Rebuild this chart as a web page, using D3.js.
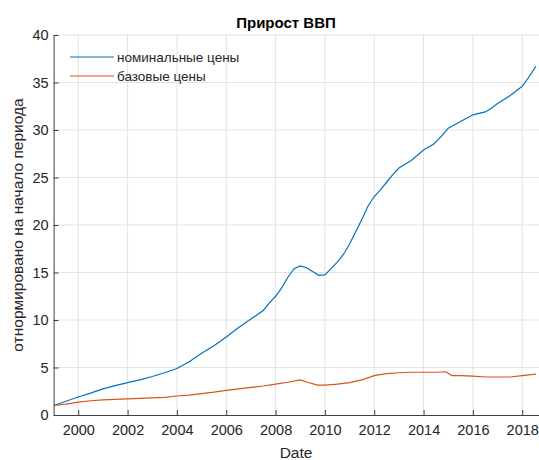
<!DOCTYPE html>
<html><head><meta charset="utf-8">
<script src="https://cdn.jsdelivr.net/npm/d3@7"></script>
<style>
html,body{margin:0;padding:0;background:#fff;}
svg{display:block;font-family:"Liberation Sans",Arial,sans-serif;}
</style></head>
<body><svg id="c" width="539" height="460"></svg>
<script>
const nominalYears = [1999.0,1999.5,2000.0,2000.5,2001.0,2001.5,2002.0,2002.5,2003.0,2003.5,2004.0,2004.5,2005.0,2005.5,2006.0,2006.5,2007.0,2007.5,2007.75,2008.0,2008.2,2008.5,2008.75,2009.0,2009.25,2009.5,2009.75,2010.0,2010.25,2010.5,2010.75,2011.0,2011.25,2011.5,2011.75,2012.0,2012.25,2012.5,2012.75,2013.0,2013.5,2014.0,2014.4,2014.75,2015.0,2015.5,2016.0,2016.5,2016.75,2017.0,2017.5,2018.0,2018.25,2018.55];
const nominalValues = [1.0,1.45,1.9,2.3,2.75,3.1,3.4,3.7,4.05,4.45,4.9,5.6,6.5,7.3,8.2,9.2,10.1,11.0,11.8,12.5,13.2,14.5,15.4,15.7,15.5,15.1,14.7,14.75,15.4,16.1,16.9,18.0,19.3,20.6,22.0,23.0,23.7,24.5,25.3,26.0,26.8,27.9,28.5,29.4,30.2,30.9,31.6,31.9,32.3,32.8,33.6,34.6,35.5,36.7];
const baseYears = [1999.0,1999.5,2000.0,2000.5,2001.0,2001.5,2002.0,2002.5,2003.0,2003.5,2004.0,2004.5,2005.0,2005.5,2006.0,2006.5,2007.0,2007.5,2008.0,2008.5,2009.0,2009.3,2009.7,2010.0,2010.5,2011.0,2011.5,2012.0,2012.5,2013.0,2013.5,2014.0,2014.5,2014.9,2015.15,2015.5,2016.0,2016.5,2017.0,2017.5,2018.0,2018.55];
const baseValues = [1.0,1.15,1.35,1.5,1.6,1.65,1.7,1.75,1.8,1.85,2.0,2.1,2.25,2.4,2.6,2.75,2.9,3.05,3.25,3.45,3.7,3.45,3.15,3.15,3.25,3.4,3.7,4.15,4.35,4.45,4.5,4.5,4.5,4.55,4.15,4.15,4.1,4.0,4.0,4.0,4.15,4.3];
const xTicks = [2000,2002,2004,2006,2008,2010,2012,2014,2016,2018];
const yTicks = [0,5,10,15,20,25,30,35,40];
const seriesNames = ["номинальные цены","базовые цены"];
const seriesColors = ["#0072BD","#D95319"];

const svg = d3.select("#c");
const x = d3.scaleLinear().domain([1999, 2018.68]).range([53.6, 539]);
const y = d3.scaleLinear().domain([0, 40]).range([415, 35]);
const textCol = "#262626";

// grid
svg.append("g").selectAll("line").data(xTicks).join("line")
  .attr("x1", d => x(d)).attr("x2", d => x(d)).attr("y1", y(0)).attr("y2", y(40))
  .attr("stroke", "#e3e3e3").attr("stroke-width", 1);
svg.append("g").selectAll("line").data(yTicks.filter(d => d > 0)).join("line")
  .attr("x1", x(1999)).attr("x2", 539).attr("y1", d => y(d)).attr("y2", d => y(d))
  .attr("stroke", "#e3e3e3").attr("stroke-width", 1);

// axes
const xAxis = d3.axisBottom(x).tickValues(xTicks).tickFormat(d3.format("d")).tickSizeInner(-5).tickSizeOuter(0).tickPadding(10);
const gx = svg.append("g").attr("transform", `translate(0,${y(0)})`).call(xAxis);
const yAxis = d3.axisLeft(y).tickValues(yTicks).tickSizeInner(-5).tickSizeOuter(0).tickPadding(5);
const gy = svg.append("g").attr("transform", `translate(${x(1999)},0)`).call(yAxis);
[gx, gy].forEach(g => {
  g.select(".domain").attr("stroke", "#404040");
  g.selectAll(".tick line").attr("stroke", "#404040");
  g.selectAll(".tick text").attr("fill", textCol).style("font-size", "14.5px").style("font-family", "Liberation Sans, Arial, sans-serif");
});

// lines
const line = d3.line().x(d => x(d[0])).y(d => y(d[1]));
const nomData = nominalYears.map((t, i) => [t, nominalValues[i]]);
const baseData = baseYears.map((t, i) => [t, baseValues[i]]);
svg.append("path").datum(nomData).attr("d", line).attr("fill", "none")
  .attr("stroke", seriesColors[0]).attr("stroke-width", 1.2);
svg.append("path").datum(baseData).attr("d", line).attr("fill", "none")
  .attr("stroke", seriesColors[1]).attr("stroke-width", 1.2);

// title & labels
svg.append("text").attr("x", 286).attr("y", 28).attr("text-anchor", "middle")
  .attr("fill", "#000").style("font-size", "15px").style("font-weight", "bold").text("Прирост ВВП");
svg.append("text").attr("x", 296).attr("y", 458).attr("text-anchor", "middle")
  .attr("fill", textCol).style("font-size", "15.5px").text("Date");
svg.append("text").attr("transform", "translate(23,225) rotate(-90)").attr("text-anchor", "middle")
  .attr("fill", textCol).style("font-size", "15.5px").text("отнормировано на начало периода");

// legend
const lg = svg.append("g");
seriesNames.forEach((n, i) => {
  const yy = 57 + i * 19;
  lg.append("line").attr("x1", 70).attr("x2", 114).attr("y1", yy).attr("y2", yy)
    .attr("stroke", seriesColors[i]).attr("stroke-width", 1.2);
  lg.append("text").attr("x", 117).attr("y", yy + 5).attr("fill", textCol)
    .style("font-size", "13.5px").text(n);
});
</script></body></html>
